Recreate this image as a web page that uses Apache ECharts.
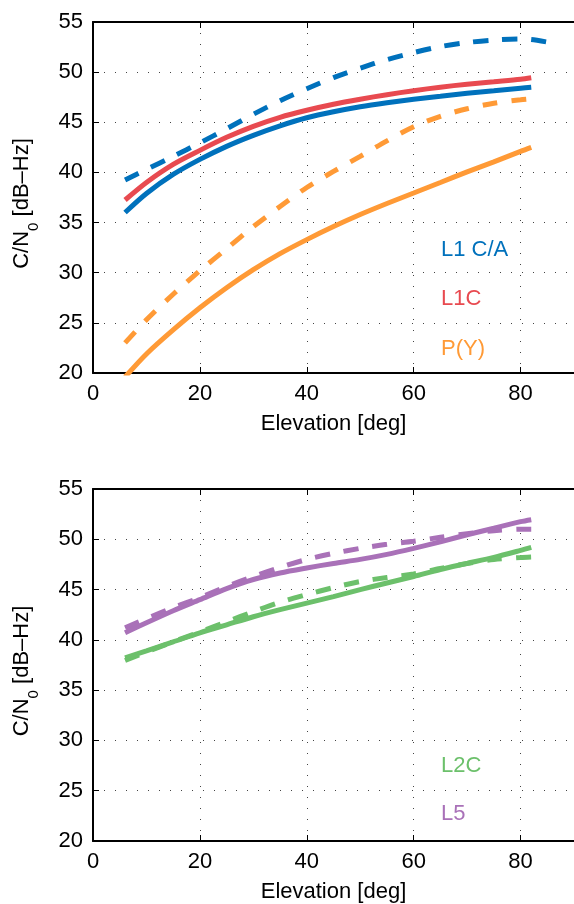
<!DOCTYPE html>
<html>
<head>
<meta charset="utf-8">
<script src="https://cdn.jsdelivr.net/npm/echarts@6/dist/echarts.min.js"></script>
<style>
  html, body { margin: 0; padding: 0; background: #fff; }
  #main { width: 574px; height: 904px; }
</style>
</head>
<body>
<div id="main"></div>
<script>
// elevation angles (deg)
var elev = [6, 10, 15, 20, 25, 30, 35, 40, 45, 50, 55, 60, 65, 70, 75, 80, 82];
var elevCA2 = [6, 10, 15, 20, 25, 30, 35, 40, 45, 50, 55, 60, 65, 70, 75, 80, 82, 85];

// top panel, C/N0 in dB-Hz
var l1caDash = [39.25, 40.3, 41.6, 42.95, 44.35, 45.8, 47.15, 48.35, 49.45, 50.4, 51.25, 51.95, 52.55, 52.95, 53.2, 53.3, 53.25, 53.0];
var l1caSolid = [36.0, 37.9, 39.8, 41.3, 42.6, 43.7, 44.65, 45.45, 46.05, 46.55, 46.95, 47.3, 47.6, 47.9, 48.15, 48.4, 48.5];
var l1cSolid = [37.25, 39.0, 40.8, 42.2, 43.5, 44.6, 45.5, 46.2, 46.8, 47.3, 47.75, 48.15, 48.5, 48.8, 49.05, 49.3, 49.45];
var pyDash = [23.0, 25.3, 27.85, 30.2, 32.4, 34.6, 36.6, 38.5, 40.1, 41.6, 43.15, 44.55, 45.6, 46.35, 46.9, 47.25, 47.35];
var pySolid = [19.6, 21.9, 24.3, 26.5, 28.5, 30.3, 31.9, 33.3, 34.6, 35.8, 36.9, 37.95, 39.0, 40.05, 41.05, 42.1, 42.5];

// bottom panel
var l5Solid = [40.7, 41.7, 42.9, 44.0, 45.1, 46.0, 46.65, 47.15, 47.6, 48.0, 48.5, 49.1, 49.75, 50.45, 51.1, 51.75, 51.95];
var l5Dash = [41.2, 42.1, 43.2, 44.2, 45.3, 46.3, 47.2, 48.0, 48.6, 49.1, 49.5, 49.8, 50.2, 50.55, 50.85, 51.0, 51.0];
var l2cSolid = [38.2, 38.9, 39.8, 40.7, 41.5, 42.3, 43.0, 43.65, 44.3, 45.0, 45.65, 46.3, 47.0, 47.6, 48.2, 48.9, 49.2];
var l2cDash = [37.95, 38.8, 39.8, 40.8, 41.8, 42.8, 43.75, 44.5, 45.2, 45.8, 46.2, 46.55, 47.1, 47.6, 48.0, 48.2, 48.25];

var cBlue = '#0071bc', cRed = '#e84a50', cOrange = '#ff9a36', cGreen = '#6cc06b', cPurple = '#a971b8';
var font = 'Liberation Sans, Arial, sans-serif';
var dash = [15, 14];

function pairs(xs, ys) {
    var out = [];
    for (var i = 0; i < ys.length; i++) out.push([xs[i], ys[i]]);
    return out;
}

function line(name, xs, ys, color, dashed, idx) {
    return {
        name: name, type: 'line', xAxisIndex: idx * 2, yAxisIndex: idx,
        data: pairs(xs, ys), smooth: 0.3, symbol: 'none',
        lineStyle: { color: color, width: 5, type: dashed ? dash : 'solid', cap: 'butt' }
    };
}

function xAx(gi, bottom) {
    if (bottom) {
        return {
            type: 'value', gridIndex: gi, min: 0, max: 90, interval: 20,
            name: 'Elevation [deg]', nameLocation: 'middle', nameGap: 40,
            nameTextStyle: { fontFamily: font, fontSize: 22, color: '#000' },
            axisLine: { lineStyle: { color: '#000', width: 2 } },
            axisTick: { inside: true, length: 6, lineStyle: { color: '#000' } },
            axisLabel: { fontFamily: font, fontSize: 22, color: '#000', margin: 10, showMaxLabel: false },
            splitLine: { show: true, lineStyle: { color: '#444', width: 1, type: [1, 10] } }
        };
    }
    return {
        type: 'value', gridIndex: gi, position: 'top', min: 0, max: 90, interval: 20,
        axisLine: { lineStyle: { color: '#000', width: 2 } },
        axisTick: { inside: true, length: 6, lineStyle: { color: '#000' } },
        axisLabel: { show: false }, splitLine: { show: false }
    };
}

function yAx(gi) {
    return {
        type: 'value', gridIndex: gi, min: 20, max: 55, interval: 5,
        name: '{m|C/N}{s|0}{m| [dB\u2013Hz]}', nameLocation: 'middle', nameGap: 52, nameRotate: 90,
        nameTextStyle: {
            padding: [0, 12, 0, 0],
            rich: {
                m: { fontFamily: font, fontSize: 22, color: '#000', lineHeight: 30, verticalAlign: 'top' },
                s: { fontFamily: font, fontSize: 15, color: '#000', lineHeight: 30, verticalAlign: 'bottom' }
            }
        },
        axisLine: { show: true, lineStyle: { color: '#000', width: 2 } },
        axisTick: { show: true, inside: true, length: 6, lineStyle: { color: '#000' } },
        axisLabel: { fontFamily: font, fontSize: 22, color: '#000', margin: 10 },
        splitLine: { show: true, lineStyle: { color: '#444', width: 1, type: [1, 10] } }
    };
}

function tag(text, top, color) {
    return {
        type: 'text', left: 441, top: top,
        style: { text: text, fill: color, font: '22px ' + font }
    };
}

var chart = echarts.init(document.getElementById('main'));
chart.setOption({
    animation: false,
    grid: [
        { left: 93, top: 22, width: 487, height: 351 },
        { left: 93, top: 489, width: 487, height: 352 }
    ],
    xAxis: [xAx(0, true), xAx(0, false), xAx(1, true), xAx(1, false)],
    yAxis: [yAx(0), yAx(1)],
    series: [
        line('L1 C/A dashed', elevCA2, l1caDash, cBlue, true, 0),
        line('P(Y) dashed', elev, pyDash, cOrange, true, 0),
        line('P(Y)', elev, pySolid, cOrange, false, 0),
        line('L1 C/A', elev, l1caSolid, cBlue, false, 0),
        line('L1C', elev, l1cSolid, cRed, false, 0),
        line('L2C dashed', elev, l2cDash, cGreen, true, 1),
        line('L2C', elev, l2cSolid, cGreen, false, 1),
        line('L5 dashed', elev, l5Dash, cPurple, true, 1),
        line('L5', elev, l5Solid, cPurple, false, 1)
    ],
    graphic: [
        tag('L1 C/A', 239, cBlue),
        tag('L1C', 288, cRed),
        tag('P(Y)', 338, cOrange),
        tag('L2C', 755, cGreen),
        tag('L5', 803, cPurple)
    ]
});
</script>
</body>
</html>
